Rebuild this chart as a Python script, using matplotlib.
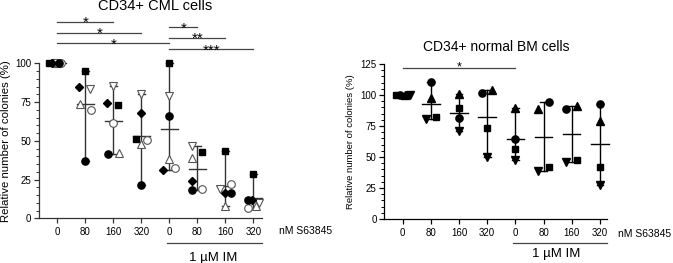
import matplotlib
matplotlib.use("Agg")
import matplotlib.pyplot as plt
from matplotlib.ticker import MultipleLocator

plt.rcParams['font.family'] = ['Liberation Sans', 'DejaVu Sans']

# ---------------- data ----------------
tick_labels = ["0", "80", "160", "320", "0", "80", "160", "320"]

# CD34+ CML cells (% colonies), 6 donors
cml_filled_circle = [100, 37.0, 41.3, 21.5, 66.0, 18.3, 16.2, 11.8]
cml_filled_square = [100, 95.1, 72.9, 51.0, 100, 43.0, 43.4, 28.6]
cml_filled_diamond = [100, 84.9, 74.6, 68.2, 31.2, 24.3, 16.5, 11.8]
cml_open_tri_up = [100, 73.5, 42.4, 47.7, 38.3, 38.7, 7.8, 8.0]
cml_open_tri_down = [100, 83.2, 85.5, 80.5, 78.9, 46.9, 18.7, 10.1]
cml_open_circle = [100, 69.9, 61.7, 50.5, 32.3, 18.7, 22.4, 6.5]

# CD34+ normal BM cells (% colonies), 4 donors
bm_circle = [100, 110.2, 81.7, 101.9, 64.2, 94.1, 88.7, 92.5]
bm_square = [100, 82.5, 89.2, 73.7, 56.2, 41.7, 47.6, 42.2]
bm_tri_up = [100, 97.3, 100.8, 104.0, 89.2, 88.5, 91.4, 79.3]
bm_tri_down = [100, 80.9, 71.0, 50.3, 47.6, 39.0, 46.2, 27.4]

cml_sig = [(0, 2, "*"), (0, 3, "*"), (0, 4, "*"), (4, 5, "*"), (4, 6, "**"), (4, 7, "***")]
bm_sig = [(0, 4, "*")]

# ---------------- layout (jitter of overlapping points) ----------------
cml_jitter = {
    "fc": [0.05, 0, -0.2, 0, 0, -0.2, 0.19, -0.19],
    "sq": [-0.3, 0, 0.17, -0.2, 0, 0.18, 0, 0],
    "dm": [-0.18, -0.21, -0.21, 0, -0.21, -0.2, 0, -0.05],
    "tu": [-0.02, -0.19, 0.2, 0, 0, -0.18, 0, 0.1],
    "td": [-0.08, 0.17, 0, 0, 0, -0.18, -0.19, 0.19],
    "oc": [0.15, 0.19, 0, 0.19, 0.19, 0.18, 0.19, -0.19],
}
bm_jitter = {
    "fc": [-0.1, 0, 0, -0.18, 0, 0.2, -0.2, 0],
    "sq": [-0.25, 0.18, 0, 0, 0, 0.2, 0.19, 0],
    "tu": [0.08, 0, 0, 0.18, 0, -0.21, 0.19, 0],
    "td": [0.25, -0.18, 0, 0, 0, -0.2, -0.2, 0],
}

fig = plt.figure(figsize=(6.73, 2.63), dpi=100)
W, H = 673, 263

def make_ax(x0, x1, ytop, ybot):
    return fig.add_axes([x0 / W, 1 - ybot / H, (x1 - x0) / W, (ybot - ytop) / H])

ax1 = make_ax(38.7, 262, 63.3, 218.3)
ax2 = make_ax(384.3, 606.7, 64, 219)

def style(ax, ymax, xlim, lc):
    ax.set_ylim(0, ymax)
    ax.set_xlim(*xlim)
    for s in ["top", "right"]:
        ax.spines[s].set_visible(False)
    for s in ["left", "bottom"]:
        ax.spines[s].set_linewidth(0.9)
        ax.spines[s].set_color(lc)
    ax.yaxis.set_major_locator(MultipleLocator(25))
    ax.yaxis.set_minor_locator(MultipleLocator(5))
    ax.set_xticks(range(len(tick_labels)))
    ax.set_xticklabels(tick_labels)
    ax.tick_params(axis='both', which='major', length=3.5, width=0.9, labelsize=7, color=lc, pad=2)
    ax.tick_params(axis='x', pad=3)
    ax.tick_params(axis='y', which='minor', length=2, width=0.7, color=lc)
    ax.patch.set_alpha(0)

def draw_range(ax, series, color, lw=1.0):
    n = len(series[0])
    for i in range(n):
        vals = [s[i] for s in series]
        lo, hi = min(vals), max(vals)
        mean = sum(vals) / len(vals)
        ax.plot([i, i], [lo, hi], color=color, lw=lw, zorder=2, clip_on=False)
        ax.plot([i - 0.12, i + 0.12], [lo, lo], color=color, lw=lw, zorder=2, clip_on=False)
        ax.plot([i - 0.12, i + 0.12], [hi, hi], color=color, lw=lw, zorder=2, clip_on=False)
        ax.plot([i - 0.31, i + 0.31], [mean, mean], color=color, lw=lw, zorder=2, clip_on=False)

# ---------- left panel ----------
lc1 = '#333333'
style(ax1, 100, (-0.664, 7.31), lc1)
cml_series = [cml_filled_circle, cml_filled_square, cml_filled_diamond,
              cml_open_tri_up, cml_open_tri_down, cml_open_circle]
draw_range(ax1, cml_series, lc1)

xs = range(len(tick_labels))
def pts(vals, jit):
    return [i + j for i, j in zip(xs, jit)], vals

open_kw = dict(ls='none', mfc='white', mec='#555555', mew=0.8, zorder=3, clip_on=False)
x, y = pts(cml_open_tri_up, cml_jitter["tu"]); ax1.plot(x, y, marker='^', ms=6, **open_kw)
x, y = pts(cml_open_tri_down, cml_jitter["td"]); ax1.plot(x, y, marker='v', ms=6, **open_kw)
x, y = pts(cml_open_circle, cml_jitter["oc"]); ax1.plot(x, y, marker='o', ms=5.5, **open_kw)
fill_kw = dict(ls='none', color='black', zorder=4, clip_on=False)
x, y = pts(cml_filled_circle, cml_jitter["fc"]); ax1.plot(x, y, marker='o', ms=5.2, **fill_kw)
x, y = pts(cml_filled_square, cml_jitter["sq"]); ax1.plot(x, y, marker='s', ms=5.0, **fill_kw)
x, y = pts(cml_filled_diamond, cml_jitter["dm"]); ax1.plot(x, y, marker='D', ms=3.6, **fill_kw)

fig.text(6.5 / W, 1 - 140.8 / H, "Relative number of colonies (%)", rotation=90,
         ha='center', va='center', fontsize=8.2)

# significance bars (left)
cml_sig_y = [126.8, 119.7, 112.9, 123.2, 116.5, 109.2]
for (a, b, s), yy in zip(cml_sig, cml_sig_y):
    ax1.plot([a, b], [yy, yy], color='#444444', lw=0.9, clip_on=False)
    ax1.text((a + b) / 2, yy - 3.4, s, ha='center', va='baseline', fontsize=11, clip_on=False)

ax1.text(7.93, -8.2, "nM S63845", ha='left', va='center', fontsize=7.5)
ax1.plot([3.91, 7.31], [-16.1, -16.1], color='#444444', lw=0.9, clip_on=False)
ax1.text(5.56, -25.5, "1 \u00b5M IM", ha='center', va='center', fontsize=9.5)
fig.text(155 / W, 1 - 6 / H, "CD34+ CML cells", ha='center', va='center', fontsize=10.5)

# ---------- right panel ----------
lc2 = 'black'
style(ax2, 125, (-0.653, 7.24), lc2)
bm_series = [bm_circle, bm_square, bm_tri_up, bm_tri_down]
draw_range(ax2, bm_series, lc2)
fk = dict(ls='none', color='black', zorder=4, clip_on=False)
x, y = pts(bm_circle, bm_jitter["fc"]); ax2.plot(x, y, marker='o', ms=5.2, **fk)
x, y = pts(bm_square, bm_jitter["sq"]); ax2.plot(x, y, marker='s', ms=5.0, **fk)
x, y = pts(bm_tri_up, bm_jitter["tu"]); ax2.plot(x, y, marker='^', ms=5.5, **fk)
x, y = pts(bm_tri_down, bm_jitter["td"]); ax2.plot(x, y, marker='v', ms=5.5, **fk)

ax2.set_ylabel("Relative number of colonies (%)", fontsize=6.8, labelpad=4)
for (a, b, s) in bm_sig:
    ax2.plot([a, b], [122, 122], color='#444444', lw=0.9, clip_on=False)
    ax2.text((a + b) / 2, 119.5, s, ha='center', va='baseline', fontsize=9, clip_on=False)

ax2.text(7.64, -11.9, "nM S63845", ha='left', va='center', fontsize=7.5)
ax2.plot([3.90, 7.24], [-19.4, -19.4], color='#444444', lw=0.9, clip_on=False)
ax2.text(5.46, -28.5, "1 \u00b5M IM", ha='center', va='center', fontsize=9.5)
fig.text(496.7 / W, 1 - 47.3 / H, "CD34+ normal BM cells", ha='center', va='center', fontsize=10)

fig.savefig("out.png", dpi=100)
